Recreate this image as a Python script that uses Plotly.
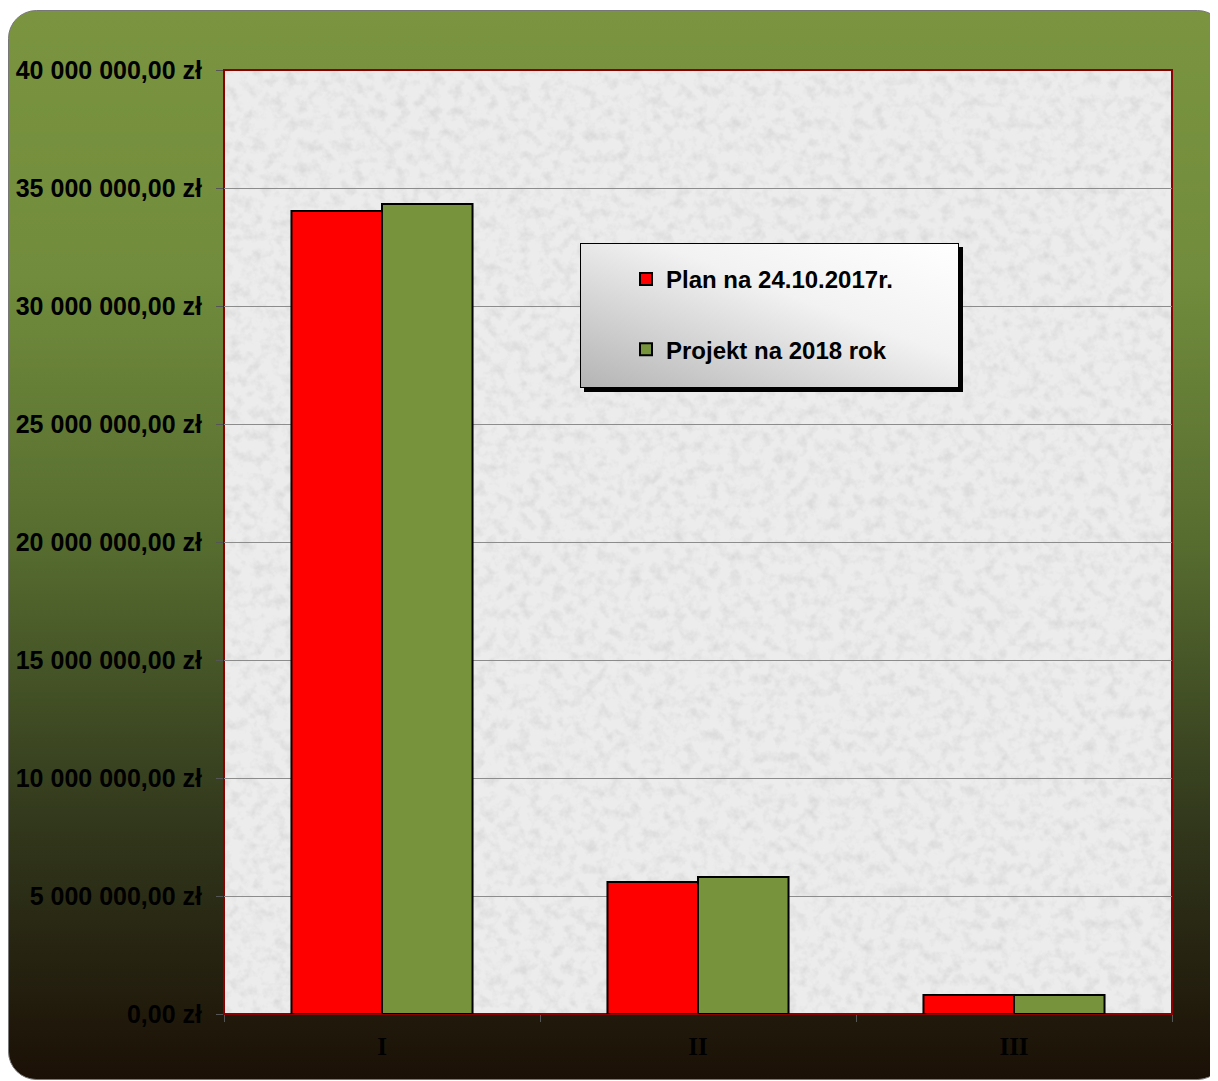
import base64
import plotly.graph_objects as go

# ---- data ----
categories = ["I", "II", "III"]
plan_2017 = [34030000, 5590000, 800000]
projekt_2018 = [34320000, 5810000, 800000]
series_names = ["Plan na 24.10.2017r.", "Projekt na 2018 rok"]
y_tick_values = [0, 5000000, 10000000, 15000000, 20000000, 25000000, 30000000, 35000000, 40000000]
y_tick_labels = ["0,00 zł", "5 000 000,00 zł", "10 000 000,00 zł", "15 000 000,00 zł",
                 "20 000 000,00 zł", "25 000 000,00 zł", "30 000 000,00 zł",
                 "35 000 000,00 zł", "40 000 000,00 zł"]

W, H = 1218, 1081
ML, MR, MT, MB = 216, 54, 62, 75
PW, PH = W - ML - MR, H - MT - MB

bg_svg = f'''<svg xmlns="http://www.w3.org/2000/svg" width="{W}" height="{H}" viewBox="0 0 {W} {H}" preserveAspectRatio="none">
<defs>
<linearGradient id="g" x1="0" y1="0" x2="0" y2="1">
<stop offset="0" stop-color="#7a9440"/>
<stop offset="0.25" stop-color="#718c3c"/>
<stop offset="0.5" stop-color="#566c2f"/>
<stop offset="0.75" stop-color="#333a1d"/>
<stop offset="1" stop-color="#1b1006"/>
</linearGradient>
<filter id="n" x="0" y="0" width="100%" height="100%">
<feTurbulence type="fractalNoise" baseFrequency="0.09" numOctaves="3" seed="7"/>
<feColorMatrix type="matrix" values="0 0 0 0 0.55  0 0 0 0 0.55  0 0 0 0 0.55  -1.6 0 0 0 0.9"/>
</filter>
</defs>
<rect x="0.5" y="2.5" width="1217" height="1069" rx="28" ry="28" fill="url(#g)" stroke="#777" stroke-width="1"/>
<rect x="{ML}" y="{MT}" width="{PW}" height="{PH}" fill="#ececec"/>
<rect x="{ML}" y="{MT}" width="{PW}" height="{PH}" fill="#fff" filter="url(#n)" opacity="0.6"/>
</svg>'''

leg_svg = '''<svg xmlns="http://www.w3.org/2000/svg" width="384" height="150" viewBox="0 0 384 150" preserveAspectRatio="none">
<defs>
<linearGradient id="lg" x1="0" y1="1" x2="1" y2="0">
<stop offset="0" stop-color="#b4b4b4"/>
<stop offset="0.6" stop-color="#f2f2f2"/>
<stop offset="1" stop-color="#ffffff"/>
</linearGradient>
</defs>
<rect x="4" y="4" width="379" height="145" fill="#000"/>
<rect x="0.5" y="0.5" width="378" height="144" fill="url(#lg)" stroke="#000" stroke-width="1"/>
</svg>'''


def uri(s):
    return "data:image/svg+xml;base64," + base64.b64encode(s.encode()).decode()


fig = go.Figure()
fig.add_trace(go.Bar(x=categories, y=plan_2017, name=series_names[0], legendgroup="a",
                     marker=dict(color="#ff0000", line=dict(color="#000000", width=2))))
fig.add_trace(go.Bar(x=categories, y=projekt_2018, name=series_names[1], legendgroup="b",
                     marker=dict(color="#77933c", line=dict(color="#000000", width=2))))

fig.update_layout(
    width=W, height=H,
    margin=dict(l=ML, r=MR, t=MT, b=MB, autoexpand=False),
    paper_bgcolor="#ffffff",
    plot_bgcolor="rgba(0,0,0,0)",
    barmode="group", bargap=0.427, bargroupgap=0,
    showlegend=True,
    legend=dict(xref="paper", yref="paper", x=(618 - ML) / PW, y=1 - (249 - MT) / PH,
                xanchor="left", yanchor="top", bgcolor="rgba(0,0,0,0)", borderwidth=0,
                font=dict(family="Arial, Liberation Sans", size=24, color="#000", weight="bold"),
                traceorder="grouped", tracegroupgap=36, itemwidth=30),
    images=[
        dict(source=uri(bg_svg), xref="paper", yref="paper", x=-ML / PW, y=1 + MT / PH,
             sizex=W / PW, sizey=H / PH, xanchor="left", yanchor="top",
             sizing="stretch", layer="below"),
        dict(source=uri(leg_svg), xref="paper", yref="paper", x=(572 - ML) / PW,
             y=1 - (235 - MT) / PH, sizex=384 / PW, sizey=150 / PH,
             xanchor="left", yanchor="top", sizing="stretch", layer="above"),
    ],
    shapes=[dict(type="rect", xref="x domain", yref="y domain", x0=0, x1=1, y0=0, y1=1,
                 line=dict(color="#8b0000", width=2), fillcolor="rgba(0,0,0,0)", layer="below")],
)
fig.update_yaxes(range=[0, 40000000], tickvals=y_tick_values, ticktext=y_tick_labels,
                 showgrid=True, gridcolor="#8c8c8c", gridwidth=1, zeroline=False,
                 ticks="outside", ticklen=7, tickcolor="#555", ticklabelstandoff=9,
                 tickfont=dict(family="Arial, Liberation Sans", size=25, color="#000", weight="bold"),
                 showline=False, automargin=False)
fig.update_xaxes(ticks="outside", tickson="boundaries", ticklen=7, tickcolor="#555",
                 ticklabelstandoff=15, showgrid=False, showline=False, automargin=False,
                 tickfont=dict(family="Liberation Serif, Times New Roman", size=25, color="#000", weight="bold"))

fig.write_html("out.html")
